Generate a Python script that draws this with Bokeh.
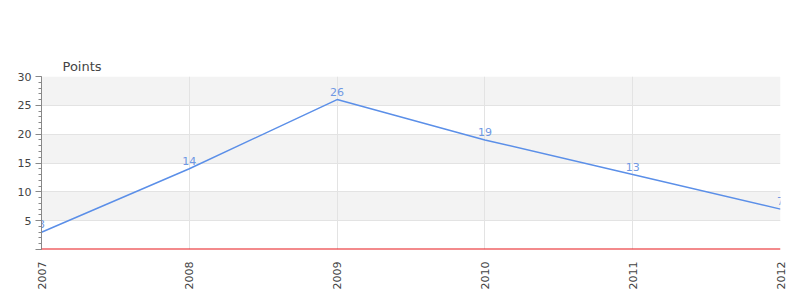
import math
from bokeh.plotting import figure
from bokeh.models import (Range1d, FixedTicker, LinearAxis, Span, Title, ColumnDataSource, Grid)
from bokeh.core.properties import value
from bokeh.embed import file_html
from bokeh.resources import INLINE

years = [2007, 2008, 2009, 2010, 2011, 2012]
points = [3, 14, 26, 19, 13, 7]
y_ticks = [0, 5, 10, 15, 20, 25, 30]
y_minor = list(range(0, 31))
series_name = "Points"

FONT = "DejaVu Sans"
src = ColumnDataSource(dict(x=years, y=points, t=[str(v) for v in points]))

p = figure(width=800, height=300, output_backend="svg", toolbar_location=None,
           x_range=Range1d(years[0], years[-1]), y_range=Range1d(0, 30),
           x_axis_type=None, y_axis_type=None,
           min_border_left=41, min_border_right=20, min_border_top=76, min_border_bottom=51)
p.outline_line_color = None
p.background_fill_color = "white"
p.border_fill_color = "white"

yaxis = LinearAxis(ticker=FixedTicker(ticks=y_ticks, minor_ticks=y_minor),
                   major_label_overrides={0: ""})
yaxis.axis_line_color = "#888888"
yaxis.major_tick_line_color = "#888888"
yaxis.minor_tick_line_color = "#888888"
yaxis.major_tick_out = 6
yaxis.major_tick_in = 0
yaxis.minor_tick_out = 3
yaxis.minor_tick_in = 0
yaxis.major_label_standoff = 4
yaxis.major_label_text_font = FONT
yaxis.major_label_text_font_size = "11px"
yaxis.major_label_text_color = "#444444"
p.add_layout(yaxis, "left")

xaxis = LinearAxis(ticker=FixedTicker(ticks=years))
xaxis.axis_line_color = None
xaxis.major_tick_line_color = None
xaxis.minor_tick_line_color = None
xaxis.major_label_orientation = math.pi / 2
xaxis.major_label_standoff = 6
xaxis.major_label_text_font = FONT
xaxis.major_label_text_font_size = "11px"
xaxis.major_label_text_color = "#444444"
p.add_layout(xaxis, "below")

ygrid = Grid(dimension=1, ticker=FixedTicker(ticks=y_ticks),
             grid_line_color="#e3e3e3", band_fill_color="#f3f3f3", band_fill_alpha=1)
xgrid = Grid(dimension=0, ticker=FixedTicker(ticks=years), grid_line_color="#e3e3e3")
p.add_layout(ygrid)
p.add_layout(xgrid)

p.add_layout(Span(location=0, dimension="width", line_color="#e8161a", line_width=2))

p.line("x", "y", source=src, line_color="#5b8fe8", line_width=1.5)
p.text("x", "y", text="t", source=src, text_align="center", text_baseline="bottom",
       y_offset=-4, text_font=value(FONT), text_font_size="11px", text_color="#6f98e3")

p.add_layout(Title(text=series_name, align="left", offset=21, text_font=FONT,
                   text_font_size="13px", text_font_style="normal", text_color="#444444",
                   standoff=5), "above")

open("out.html", "w").write(file_html(p, INLINE))
